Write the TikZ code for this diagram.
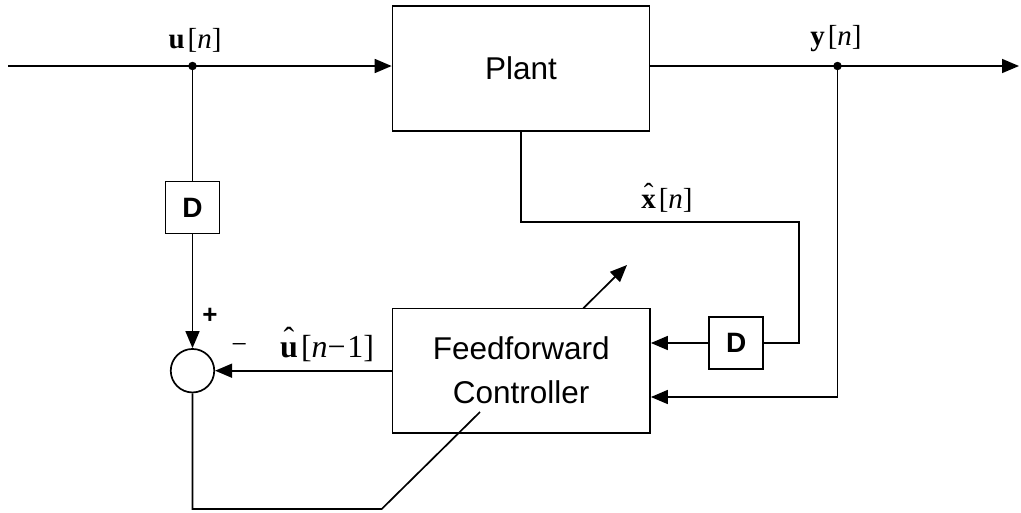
\documentclass[tikz,border=0pt]{standalone}
\usepackage{fontspec}
\setmainfont{Liberation Serif}
\setsansfont{Liberation Sans}
\usetikzlibrary{arrows.meta}
% bold letter with a circumflex set a little above it
\newcommand{\hatbf}[2]{\ooalign{\textbf{#1}\cr\hidewidth\raisebox{#2}{ˆ}\hidewidth\cr}}
% small gap between a signal name and its index bracket
\newcommand{\gp}{\hspace{0.1em}}

\begin{document}
\begin{tikzpicture}[x=1pt,y=-1pt,
  wire/.style={line width=1.7pt},
  flow/.style={wire,-{Triangle[length=17pt,width=14pt]}},
  block/.style={draw,line width=1.7pt,fill=white,inner sep=0pt,
    font=\sffamily\fontsize{31.5}{44}\selectfont,align=center},
  delaybox/.style={draw,line width=1.7pt,inner sep=0pt,minimum width=54pt,
    minimum height=52pt,font=\sffamily\bfseries\fontsize{28}{30}\selectfont},
  sig/.style={font=\fontsize{29}{31}\selectfont,inner sep=0pt,anchor=base},
  junction/.style={circle,fill,inner sep=0pt,minimum size=8.5pt}]

\useasboundingbox (0,0) rectangle (1021,512);

% blocks
\node[block,minimum width=257pt,minimum height=124.7pt] (plant) at (521,68.3) {Plant};
\node[block,minimum width=257.7pt,minimum height=124.7pt] (ctrl) at (521.2,370.7) {Feedforward\\Controller};
\node[draw,circle,line width=1.7pt,minimum size=43.5pt,inner sep=0pt] (sum) at (192.5,370.7) {};
\node[delaybox] (d1) at (192.5,207.5) {D};
\node[delaybox] (d2) at (736.3,343) {D};

% signal points
\coordinate (in) at (8,66);
\coordinate (out) at (1019,66);
\node[junction] (udot) at (192.5,66) {};
\node[junction] (ydot) at (837.5,66) {};

% forward path
\draw[flow] (in) -- (in -| plant.west);
\draw[flow] (plant.east |- out) -- (out);

% delayed input to the summing junction
\draw[wire] (udot) -- (d1.north);
\draw[flow] (d1.south) -- (sum.north);
\draw[flow] (ctrl.west) -- (sum.east);

% state estimate through the delay
\coordinate (xk) at (799,222);
\draw[wire] (plant.south) |- (xk) |- (d2.east);
\draw[flow] (d2.west) -- (d2.west -| ctrl.east);

% output fed to the controller
\coordinate (yk) at (837.5,397);
\draw[flow] (ydot) -- (yk) -- (yk -| ctrl.east);

% error path adapting the controller
\coordinate (bk) at (381.7,509);
\coordinate (bend) at (480,412);
\draw[wire] (sum.south) |- (bk) -- (bend);
\coordinate (aa) at (583.3,308.3);
\coordinate (ab) at (627,265);
\draw[flow] (aa) -- (ab);

% labels
\node[sig] (lu) at (195,48) {\textbf{u}\gp[\textit{n}]};
\node[sig] (ly) at (836,45) {\textbf{y}\gp[\textit{n}]};
\node[sig] (lx) at (667,208) {\hatbf{x}{0.16em}\gp[\textit{n}]};
\node[sig,font=\fontsize{32}{34}\selectfont] (lu1) at (327,357) {\hatbf{u}{0.22em}\gp[\textit{n}−\hspace{0.05em}1]};
\node[font=\sffamily\bfseries\fontsize{26}{28}\selectfont,inner sep=0pt] (plus) at (210,316) {+};
\node[font=\fontsize{28}{30}\selectfont,inner sep=0pt] (minus) at (239.3,348.3) {−};
\end{tikzpicture}
\end{document}
